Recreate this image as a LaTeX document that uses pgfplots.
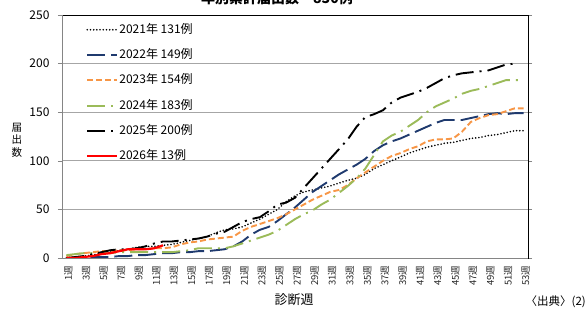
\documentclass[border=0pt]{standalone}
\usepackage{fontspec}
\setmainfont{Noto Sans CJK JP}
\usepackage{pgfplots}
\usepackage{pgfplotstable}
\pgfplotsset{compat=1.18}
\definecolor{c22}{HTML}{1F3A6E}
\definecolor{c23}{HTML}{F79646}
\definecolor{c24}{HTML}{9BBB59}
\definecolor{gridc}{HTML}{A6A6A6}
\pgfplotstableread{
w v
1 0
2 1
3 2
4 3
5 5
6 6
7 8
8 9
9 11
10 12
11 12
12 13
13 14
14 16
15 18
16 20
17 22
18 26
19 29
20 30
21 32
22 36
23 40
24 45
25 50
26 58
27 64
28 68
29 70
30 72
31 74
32 77
33 80
34 82
35 86
36 92
37 96
38 100
39 104
40 108
41 111
42 114
43 116
44 118
45 119
46 121
47 123
48 124
49 126
50 127
51 129
52 131
53 131
}\dA
\pgfplotstableread{
w v
1 0
2 0
3 0
4 1
5 1
6 1
7 2
8 2
9 3
10 3
11 4
12 5
13 5
14 6
15 6
16 7
17 7
18 8
19 9
20 12
21 17
22 24
23 29
24 32
25 38
26 45
27 52
28 60
29 68
30 74
31 80
32 86
33 91
34 96
35 102
36 110
37 116
38 120
39 123
40 127
41 131
42 135
43 139
44 142
45 142
46 142
47 144
48 146
49 148
50 149
51 148
52 149
53 149
}\dB
\pgfplotstableread{
w v
1 2
2 4
3 5
4 6
5 7
6 7
7 8
8 8
9 9
10 9
11 10
12 10
13 11
14 14
15 16
16 17
17 19
18 20
19 21
20 22
21 28
22 32
23 35
24 38
25 41
26 45
27 50
28 55
29 60
30 64
31 68
32 70
33 75
34 82
35 88
36 94
37 100
38 105
39 108
40 112
41 115
42 120
43 122
44 122
45 123
46 130
47 140
48 144
49 147
50 148
51 151
52 154
53 154
}\dC
\pgfplotstableread{
w v
1 3
2 4
3 5
4 5
5 5
6 5
7 6
8 6
9 6
10 6
11 6
12 6
13 6
14 7
15 8
16 10
17 10
18 10
19 10
20 12
21 15
22 18
23 21
24 24
25 28
26 34
27 40
28 45
29 49
30 55
31 60
32 67
33 74
34 82
35 92
36 106
37 120
38 126
39 130
40 136
41 142
42 150
43 156
44 160
45 164
46 169
47 172
48 174
49 177
50 180
51 183
52 183
53 183
}\dD
\pgfplotstableread{
w v
1 0
2 1
3 2
4 4
5 6
6 8
7 9
8 9
9 10
10 12
11 15
12 17
13 17
14 18
15 19
16 20
17 22
18 25
19 27
20 32
21 37
22 40
23 42
24 48
25 55
26 57
27 62
28 72
29 82
30 92
31 102
32 112
33 122
34 135
35 145
36 148
37 152
38 160
39 165
40 168
41 171
42 175
43 180
44 185
45 188
46 190
47 191
48 192
49 193
50 196
51 199
52 200
}\dE
\pgfplotstableread{
w v
1 0
2 0
3 1
4 2
5 4
6 5
7 7
8 9
9 9
10 9
11 10
12 13
}\dF
\begin{document}
\begin{tikzpicture}
\begin{axis}[
  at={(0pt,0pt)}, anchor=south west,
  scale only axis, width=466pt, height=243pt,
  xmin=0.5, xmax=53.5, ymin=0, ymax=250,
  ytick={0,50,...,250},
  xtick={1,3,...,53},
  xticklabel={\pgfmathparse{int(\tick)}\pgfmathresult 週},
  x tick label style={rotate=90, anchor=east, font=\fontsize{9.5}{9.5}\selectfont, text=black!85, yshift=-2pt},
  y tick label style={font=\fontsize{12}{12}\selectfont, xshift=-5pt},
  major x tick style={draw=none},
  ytick style={gridc!80!black},
  tick align=outside, major tick length=4pt,
  ymajorgrids, grid style={gridc, line width=0.7pt},
  axis line style={black, line width=0.8pt},
  /pgf/number format/assume math mode=true,
  legend cell align=left,
  legend style={draw=none, fill=none, at={(axis description cs:0.045,0.975)}, anchor=north west,
    font=\fontsize{12}{12}\selectfont, row sep=12.3pt,
    nodes={inner sep=1pt, text height=9pt, text depth=2pt},
    /tikz/every odd column/.style={column sep=0pt}},
  legend image code/.code={\draw[#1] (0pt,0pt) -- (30pt,0pt);},
]
\addplot[black, line width=1.8pt, line cap=round, dash pattern=on 0pt off 3.2pt] table[x=w,y=v] {\dA};
\addlegendentry{2021年 131例}
\addplot[c22, line width=1.9pt, dash pattern=on 18pt off 6pt] table[x=w,y=v] {\dB};
\addlegendentry{2022年 149例}
\addplot[c23, line width=1.9pt, dash pattern=on 6pt off 3pt] table[x=w,y=v] {\dC};
\addlegendentry{2023年 154例}
\addplot[c24, line width=1.9pt, dash pattern=on 18pt off 6pt on 2pt off 6pt] table[x=w,y=v] {\dD};
\addlegendentry{2024年 183例}
\addplot[black, line width=1.9pt, dash pattern=on 18pt off 6pt on 2pt off 6pt] table[x=w,y=v] {\dE};
\addlegendentry{2025年 200例}
\addplot[red, line width=2.2pt] table[x=w,y=v] {\dF};
\addlegendentry{2026年 13例}
\draw[gridc!80!black, line width=0.8pt] (rel axis cs:0,1) -- (rel axis cs:0,0) -- (rel axis cs:1,0);
\end{axis}
\node[anchor=base, font=\bfseries\fontsize{14}{14}\selectfont] at (215pt,254pt) {年別累計届出数　830例};
\node[align=center, font=\fontsize{10.5}{12.5}\selectfont, inner sep=0pt] at (-45pt,118pt) {届\\出\\数};
\node[font=\fontsize{13}{13}\selectfont, inner sep=0pt] at (232pt,-42pt) {診断週};
\node[anchor=east, font=\fontsize{11.5}{12}\selectfont, inner sep=0pt] at (524pt,-44pt) {〈出典〉(2)};
\pgfresetboundingbox
\useasboundingbox (-62pt,-50pt) rectangle (524pt,258pt);
\end{tikzpicture}
\end{document}
